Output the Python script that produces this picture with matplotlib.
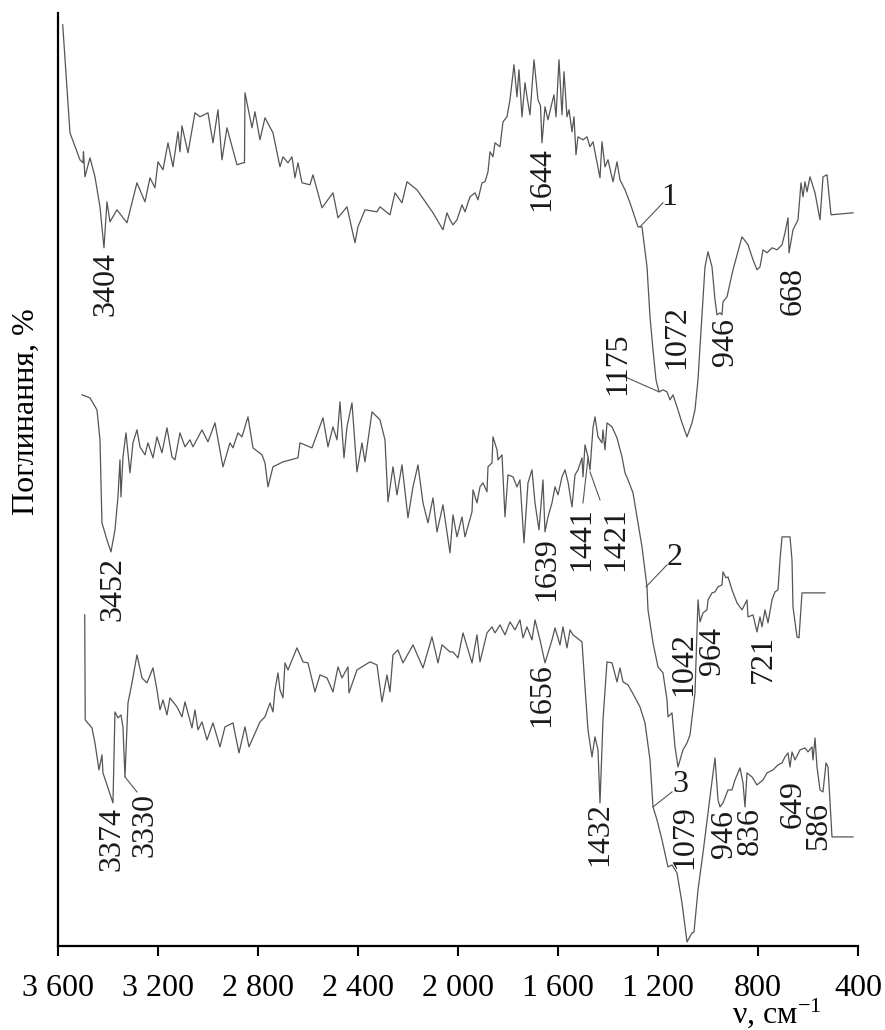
import matplotlib
matplotlib.use("Agg")
import matplotlib.pyplot as plt

plt.rcParams['font.family'] = ['Liberation Serif', 'DejaVu Serif']
plt.rcParams['mathtext.fontset'] = 'custom'
plt.rcParams['mathtext.rm'] = 'Liberation Serif'
plt.rcParams['mathtext.it'] = 'Liberation Serif:italic'

#### DATA (absorbance in arbitrary units)
wn1 = [3581, 3552, 3512, 3500, 3498, 3492, 3472, 3452, 3432, 3416, 3404, 3392, 3364, 3324, 3284,
       3252, 3232, 3212, 3200, 3180, 3160, 3140, 3120, 3112, 3104, 3080, 3052, 3032, 3000, 2980,
       2960, 2944, 2924, 2884, 2860, 2854, 2852, 2824, 2812, 2792, 2772, 2740, 2712, 2700, 2680,
       2664, 2652, 2640, 2624, 2592, 2580, 2544, 2500, 2480, 2444, 2412, 2400, 2372, 2324, 2312,
       2272, 2252, 2224, 2204, 2164, 2100, 2060, 2044, 2032, 2020, 2004, 1984, 1972, 1952, 1932,
       1920, 1904, 1892, 1880, 1872, 1860, 1852, 1832, 1820, 1804, 1792, 1776, 1764, 1756, 1744,
       1732, 1724, 1712, 1696, 1680, 1670, 1664, 1652, 1640, 1624, 1616, 1608, 1596, 1584, 1576,
       1564, 1556, 1544, 1536, 1528, 1520, 1500, 1484, 1472, 1460, 1432, 1424, 1412, 1400, 1380,
       1364, 1352, 1332, 1312, 1280, 1264, 1244, 1232, 1220, 1208, 1196, 1180, 1164, 1152, 1140,
       1124, 1104, 1084, 1064, 1052, 1040, 1032, 1020, 1012, 1000, 984, 972, 964, 952, 944,
       940, 924, 900, 864, 840, 820, 804, 792, 780, 764, 744, 724, 704, 692, 680,
       676, 660, 640, 628, 620, 612, 604, 592, 572, 552, 540, 524, 508, 420]
ab1 = [92.1, 81.3, 78.6, 78.3, 79.4, 76.9, 78.8, 76.9, 73.9, 69.8, 74.4, 72.4, 73.6, 72.3, 76.3,
       74.4, 76.8, 75.8, 78.4, 77.6, 80.3, 77.9, 81.4, 79.4, 82.0, 79.3, 83.3, 82.9, 83.3, 80.3,
       83.6, 78.6, 81.8, 78.1, 78.3, 78.3, 85.3, 81.8, 83.4, 80.6, 82.8, 81.3, 77.9, 78.9, 78.3,
       78.9, 76.8, 78.3, 76.3, 76.1, 77.1, 73.8, 75.3, 72.8, 73.9, 70.3, 71.9, 73.6, 73.4, 73.9,
       73.1, 75.3, 74.3, 76.4, 75.6, 73.3, 71.6, 73.3, 72.6, 72.1, 72.6, 74.1, 73.4, 74.9, 75.3,
       74.6, 76.3, 76.4, 77.4, 79.4, 78.9, 80.3, 79.9, 82.4, 82.9, 84.6, 88.1, 84.9, 87.6, 82.9,
       86.3, 84.9, 83.1, 88.6, 84.6, 84.0, 80.3, 83.9, 82.6, 84.3, 85.1, 82.9, 88.6, 83.1, 87.4,
       82.9, 83.6, 81.4, 82.9, 79.1, 80.9, 80.6, 80.9, 79.9, 80.4, 76.8, 80.4, 77.9, 78.6, 76.4,
       78.4, 76.6, 75.6, 74.3, 71.9, 71.9, 67.9, 62.9, 59.6, 56.6, 55.4, 55.6, 55.4, 54.6, 55.1,
       53.9, 52.3, 50.9, 52.3, 53.6, 56.6, 59.9, 64.6, 67.9, 69.4, 67.9, 64.6, 63.1, 63.3, 63.1,
       64.4, 64.9, 67.6, 70.9, 70.1, 68.6, 67.6, 67.9, 69.6, 69.3, 69.8, 69.6, 70.1, 71.3, 72.8,
       69.3, 71.6, 72.6, 76.3, 74.9, 76.4, 75.4, 76.9, 75.3, 72.6, 76.9, 77.1, 73.1, 73.3]

wn2 = [3504, 3472, 3444, 3432, 3424, 3404, 3388, 3372, 3360, 3352, 3348, 3340, 3328, 3312, 3300,
       3284, 3272, 3252, 3240, 3220, 3204, 3184, 3164, 3144, 3132, 3112, 3092, 3072, 3060, 3024,
       3000, 2972, 2940, 2912, 2900, 2880, 2864, 2840, 2820, 2784, 2772, 2760, 2740, 2700, 2640,
       2632, 2584, 2540, 2520, 2500, 2484, 2472, 2456, 2444, 2424, 2404, 2384, 2372, 2344, 2312,
       2292, 2280, 2260, 2244, 2224, 2200, 2180, 2160, 2140, 2120, 2100, 2084, 2060, 2032, 2020,
       2004, 1984, 1972, 1944, 1940, 1924, 1912, 1900, 1884, 1880, 1864, 1860, 1844, 1840, 1824,
       1812, 1800, 1780, 1764, 1752, 1736, 1720, 1704, 1692, 1676, 1660, 1652, 1640, 1624, 1612,
       1600, 1584, 1572, 1560, 1544, 1532, 1520, 1504, 1500, 1492, 1480, 1472, 1460, 1452, 1440,
       1424, 1420, 1412, 1404, 1384, 1364, 1344, 1332, 1320, 1300, 1284, 1264, 1244, 1240, 1220,
       1200, 1180, 1164, 1160, 1144, 1132, 1120, 1100, 1084, 1072, 1060, 1052, 1040, 1032, 1020,
       1004, 1000, 984, 972, 960, 944, 940, 928, 920, 904, 884, 864, 844, 840, 820,
       804, 792, 784, 772, 760, 744, 732, 720, 712, 704, 672, 664, 660, 644, 636,
       624, 532]
ab2 = [55.1, 54.8, 53.6, 50.6, 42.3, 40.6, 39.4, 41.6, 44.9, 48.6, 44.9, 48.9, 51.3, 47.3, 50.3,
       51.6, 49.9, 49.1, 50.3, 48.8, 50.9, 49.3, 51.8, 48.9, 48.6, 51.3, 49.9, 50.6, 49.9, 51.6,
       50.4, 52.3, 47.9, 50.3, 49.8, 51.3, 50.9, 52.9, 49.8, 49.1, 48.3, 45.9, 47.9, 48.4, 48.8,
       50.3, 49.8, 52.8, 49.9, 51.9, 50.6, 54.4, 48.8, 51.9, 54.3, 47.4, 50.3, 48.4, 53.4, 52.6,
       50.6, 44.4, 47.9, 45.1, 48.1, 42.8, 45.9, 48.1, 44.3, 42.3, 44.8, 41.4, 44.1, 39.3, 43.1,
       40.9, 42.9, 40.9, 43.4, 45.6, 44.3, 45.9, 46.3, 45.4, 47.9, 48.3, 50.9, 49.6, 48.6, 49.1,
       42.9, 47.1, 46.9, 45.9, 46.6, 40.3, 46.3, 47.6, 44.3, 41.6, 46.6, 41.4, 42.9, 44.3, 45.9,
       45.1, 46.9, 47.6, 46.4, 43.9, 47.1, 47.6, 48.8, 46.9, 50.1, 48.9, 47.6, 51.8, 52.9, 50.9,
       50.3, 51.6, 49.6, 52.3, 51.9, 50.8, 48.9, 47.3, 46.6, 45.3, 42.9, 39.9, 35.9, 33.6, 30.3,
       27.9, 27.3, 24.6, 22.9, 23.3, 19.9, 17.9, 19.6, 20.3, 21.1, 23.6, 25.3, 34.6, 32.4, 33.3,
       33.6, 34.6, 35.3, 35.4, 35.9, 36.1, 37.4, 36.8, 36.9, 35.6, 34.3, 33.6, 34.6, 32.9, 33.1,
       31.4, 32.9, 31.9, 33.6, 32.3, 34.6, 35.4, 35.6, 38.6, 40.9, 40.9, 38.6, 33.9, 30.9, 30.8,
       35.3, 35.3]

wn3 = [3493, 3491, 3464, 3452, 3436, 3424, 3420, 3380, 3372, 3360, 3348, 3340, 3332, 3320, 3304,
       3284, 3264, 3244, 3220, 3204, 3192, 3180, 3164, 3152, 3124, 3104, 3092, 3064, 3052, 3040,
       3024, 3004, 2980, 2952, 2932, 2900, 2876, 2852, 2836, 2820, 2792, 2772, 2752, 2740, 2732,
       2720, 2712, 2700, 2692, 2680, 2644, 2620, 2600, 2572, 2552, 2524, 2500, 2480, 2464, 2440,
       2436, 2404, 2352, 2324, 2304, 2284, 2272, 2260, 2240, 2220, 2180, 2140, 2104, 2080, 2064,
       2032, 2020, 2000, 1980, 1944, 1924, 1912, 1884, 1864, 1852, 1832, 1812, 1792, 1772, 1752,
       1740, 1724, 1704, 1692, 1672, 1652, 1624, 1612, 1592, 1580, 1564, 1552, 1540, 1524, 1504,
       1492, 1480, 1464, 1452, 1440, 1432, 1420, 1404, 1384, 1364, 1352, 1340, 1320, 1304, 1272,
       1252, 1232, 1220, 1204, 1184, 1160, 1144, 1124, 1104, 1084, 1064, 1056, 1040, 1020, 992,
       972, 960, 952, 940, 920, 904, 892, 872, 860, 852, 844, 824, 804, 780, 764,
       740, 720, 704, 692, 680, 672, 664, 652, 632, 612, 600, 584, 580, 572, 564,
       552, 540, 528, 520, 504, 420]
ab3 = [33.1, 22.6, 21.8, 20.3, 17.6, 19.1, 17.3, 14.3, 23.4, 22.8, 23.1, 21.9, 16.9, 24.3, 26.3,
       29.1, 26.8, 26.3, 27.8, 25.6, 23.6, 24.6, 23.1, 24.8, 23.9, 22.9, 24.4, 21.8, 23.6, 21.6,
       22.4, 20.6, 22.3, 19.9, 21.9, 22.3, 19.3, 21.9, 19.9, 20.8, 22.4, 22.9, 24.3, 23.4, 25.6,
       27.3, 25.6, 24.8, 28.3, 27.6, 29.8, 28.4, 28.3, 25.4, 27.1, 26.8, 25.4, 27.9, 26.8, 27.9,
       25.3, 27.6, 28.4, 28.1, 24.4, 27.1, 25.4, 29.1, 29.6, 28.3, 30.1, 27.8, 30.9, 28.3, 30.1,
       29.4, 29.4, 28.8, 31.3, 28.3, 31.1, 28.4, 31.3, 31.9, 31.3, 32.1, 31.1, 32.4, 31.6, 32.6,
       30.8, 31.9, 30.6, 32.6, 30.6, 28.3, 30.6, 31.8, 30.1, 31.9, 29.8, 31.6, 31.1, 30.8, 30.4,
       25.9, 21.6, 18.9, 20.9, 19.6, 14.3, 22.6, 28.4, 28.3, 26.4, 27.8, 26.4, 26.1, 25.4, 23.9,
       22.3, 18.6, 13.9, 12.6, 10.6, 7.9, 8.1, 7.3, 4.3, 0.4, 1.3, 1.4, 5.6, 9.3, 14.9,
       18.8, 14.6, 13.9, 14.3, 15.6, 15.6, 16.6, 17.8, 16.3, 13.9, 17.3, 16.9, 16.1, 16.6, 17.3,
       17.6, 18.1, 18.3, 18.9, 19.3, 17.9, 19.4, 18.6, 19.6, 19.8, 19.4, 19.9, 18.6, 20.8, 17.9,
       15.6, 15.4, 18.3, 17.9, 10.9, 10.9]

# peak labels: text, wavenumber, top of the label
peak_text = ['3404', '1644', '1072', '946', '668', '1175',
             '3452', '1639', '1441', '1421', '1042', '964', '721',
             '3374', '3330', '1656', '1432', '1079', '946', '836', '649', '586']
peak_wn = [3408, 1664, 1124, 932, 660, 1360,
           3380, 1644, 1504, 1368, 1096, 984, 780,
           3384, 3252, 1664, 1432, 1092, 936, 832, 660, 556]
peak_top = [69.4, 79.9, 64.1, 62.8, 67.9, 61.3,
            38.9, 40.9, 43.9, 43.9, 31.4, 31.9, 31.1,
            13.9, 15.3, 28.3, 14.4, 14.1, 13.6, 13.9, 16.6, 14.4]

# curve numbers
curve_text = ['1', '2', '3']
curve_wn = [1156, 1132, 1112]
curve_ab = [74.8, 38.8, 16.1]

# leader lines (wn start, ab start, wn end, ab end)
lead_wn0 = [1272, 1332, 1248, 1500, 1432, 1220, 3284]
lead_ab0 = [71.9, 56.9, 35.9, 44.3, 44.6, 13.9, 15.4]
lead_wn1 = [1180, 1196, 1164, 1480, 1472, 1144, 3332]
lead_ab1 = [74.3, 55.4, 38.1, 48.8, 47.4, 15.4, 16.9]

xticks = [3600, 3200, 2800, 2400, 2000, 1600, 1200, 800, 400]
xtick_labels = ['3 600', '3 200', '2 800', '2 400', '2 000', '1 600', '1 200', '800', '400']

#### PLOT
fig = plt.figure(figsize=(8.85, 10.3), dpi=100)
ax = fig.add_axes([0.0655, 0.0816, 0.904, 0.906])

line_col = '#555555'
for wn, ab in [(wn1, ab1), (wn2, ab2), (wn3, ab3)]:
    ax.plot(wn, ab, color=line_col, lw=0.9)

for i in range(len(lead_wn0)):
    ax.plot([lead_wn0[i], lead_wn1[i]], [lead_ab0[i], lead_ab1[i]], color=line_col, lw=0.8)

for t, w, y in zip(peak_text, peak_wn, peak_top):
    ax.text(w, y, t, rotation=90, ha='center', va='top', fontsize=23, color='#1a1a1a')

for t, w, y in zip(curve_text, curve_wn, curve_ab):
    ax.text(w, y, t, ha='center', va='center', fontsize=23, color='#1a1a1a')

ax.set_xlim(3600, 400)
ax.set_ylim(0, 93.3)
ax.set_xticks(xticks)
ax.set_xticklabels(xtick_labels, fontsize=23)
ax.set_yticks([])
ax.tick_params(axis='x', direction='out', length=7, width=1.5, pad=13)
for s in ['top', 'right']:
    ax.spines[s].set_visible(False)
for s in ['left', 'bottom']:
    ax.spines[s].set_linewidth(1.6)

fig.text(26 / 885, 0.6, 'Поглинання, %', rotation=90, ha='center', va='center', fontsize=23)
fig.text(732 / 885, 0.0, 'ν, см$^{-1}$', ha='left', va='bottom', fontsize=23)

plt.savefig('out.png', dpi=100)
